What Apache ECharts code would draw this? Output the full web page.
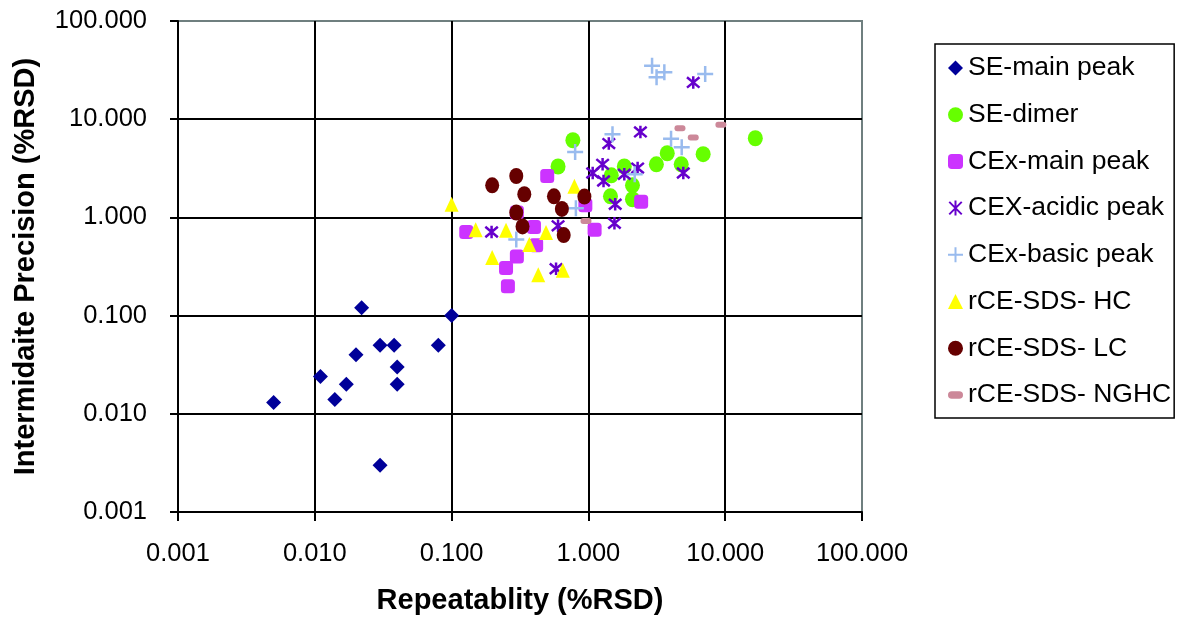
<!DOCTYPE html>
<html>
<head>
<meta charset="utf-8">
<script src="https://cdn.jsdelivr.net/npm/echarts@6/dist/echarts.min.js"></script>
<style>
  html, body { margin: 0; padding: 0; background: #fff; }
  #chart { width: 1187px; height: 620px; }
</style>
</head>
<body>
<div id="chart"></div>
<script>
// [repeatability %RSD, intermediate precision %RSD] for each assay attribute
const seMainPeak = [
  [0.022, 0.12], [0.1, 0.1], [0.03, 0.05], [0.038, 0.05], [0.08, 0.05],
  [0.02, 0.04], [0.04, 0.03], [0.011, 0.024], [0.017, 0.02], [0.04, 0.02],
  [0.014, 0.014], [0.005, 0.013], [0.03, 0.003]
];
const seDimer = [
  [0.77, 6.1], [0.6, 3.3], [1.83, 3.3], [1.47, 2.68], [2.1, 2.12], [1.45, 1.64],
  [2.1, 1.53], [3.14, 3.47], [3.77, 4.5], [4.77, 3.47], [6.9, 4.4], [16.6, 6.4]
];
const cexMainPeak = [
  [0.5, 2.64], [0.3, 1.12], [0.128, 0.71], [0.4, 0.8], [0.415, 0.52], [0.3, 0.4],
  [0.25, 0.305], [0.258, 0.199], [1.11, 0.75], [2.43, 1.44], [0.95, 1.33]
];
const cexAcidicPeak = [
  [5.84, 23.7], [2.4, 7.42], [1.41, 5.65], [1.27, 3.47], [1.075, 2.83], [1.29, 2.35],
  [1.83, 2.75], [2.29, 3.18], [4.94, 2.83], [1.57, 1.36], [1.55, 0.87], [0.6, 0.82],
  [0.196, 0.71], [0.58, 0.3]
];
const cexBasicPeak = [
  [2.92, 35], [3.59, 30], [3.15, 26.7], [7.14, 28.8], [1.5, 7.03], [0.8, 4.64],
  [4.02, 6.32], [4.81, 5.18], [2.18, 2.75], [0.81, 1.24], [0.297, 0.597]
];
const rceSdsHC = [
  [0.1, 1.36], [0.15, 0.75], [0.25, 0.74], [0.49, 0.7], [0.37, 0.53], [0.198, 0.39],
  [0.43, 0.26], [0.65, 0.29], [0.79, 2.08]
];
const rceSdsLC = [
  [0.198, 2.12], [0.297, 2.64], [0.34, 1.72], [0.56, 1.64], [0.935, 1.63], [0.64, 1.22],
  [0.297, 1.12], [0.33, 0.81], [0.66, 0.66]
];
const rceSdsNGHC = [
  [4.67, 8.1], [5.84, 6.5], [9.3, 8.8], [0.96, 0.92]
];

const seriesNames = [
  'SE-main peak', 'SE-dimer', 'CEx-main peak', 'CEX-acidic peak',
  'CEx-basic peak', 'rCE-SDS- HC', 'rCE-SDS- LC', 'rCE-SDS- NGHC'
];

const FONT = 'Liberation Sans, Arial, sans-serif';
const ASTERISK = 'path://M0,0L10,10M10,0L0,10M5,-1L5,11';
const PLUS = 'path://M5,0L5,10M0,5L10,5';
// short rounded dash used for the NGHC marker
const DASH = 'path://M3,0L9,0A3,3,0,0,1,9,6L3,6A3,3,0,0,1,3,0Z';

const chart = echarts.init(document.getElementById('chart'), null, { renderer: 'canvas' });

function scatter(name, data, symbol, size, color, stroked, strokeWidth) {
  return {
    name: name,
    type: 'scatter',
    data: data,
    symbol: symbol,
    symbolSize: size,
    itemStyle: stroked
      ? { color: color, borderColor: color, borderWidth: strokeWidth, opacity: 1 }
      : { color: color, opacity: 1 },
    emphasis: { disabled: true }
  };
}

const fmt = v => Number(v).toFixed(3);

const legendData = seriesNames.map(n => n === 'rCE-SDS- NGHC' ? { name: n, icon: DASH } : { name: n });

chart.setOption({
  animation: false,
  backgroundColor: '#ffffff',
  textStyle: { fontFamily: FONT },
  grid: {
    left: 178, right: 325, top: 21, bottom: 108,
    show: true, borderColor: '#6f7f7f', borderWidth: 2, backgroundColor: 'transparent'
  },
  legend: {
    orient: 'vertical',
    left: 935, top: 44,
    padding: [9, 3, 8, 12],
    itemWidth: 15, itemHeight: 15,
    itemGap: 16.7,
    itemSymbolKeepAspect: true,
    borderColor: '#000', borderWidth: 1.5,
    textStyle: { fontFamily: FONT, fontSize: 26.5, color: '#000', lineHeight: 30 },
    selectedMode: false,
    data: legendData
  },
  xAxis: {
    type: 'log', logBase: 10, min: 0.001, max: 100,
    name: 'Repeatablity (%RSD)',
    nameLocation: 'middle', nameGap: 74,
    nameTextStyle: { fontFamily: FONT, fontSize: 29, fontWeight: 'bold', color: '#000' },
    axisLine: { show: true, lineStyle: { color: '#000', width: 2 } },
    axisTick: { show: true, length: 9, lineStyle: { color: '#000', width: 2 } },
    axisLabel: { formatter: fmt, fontFamily: FONT, fontSize: 25.5, color: '#000', margin: 29 },
    splitLine: { show: true, showMinLine: false, showMaxLine: false, lineStyle: { color: '#000', width: 2 } },
    minorTick: { show: false }
  },
  yAxis: {
    type: 'log', logBase: 10, min: 0.001, max: 100,
    name: 'Intermidaite Precision (%RSD)',
    nameLocation: 'middle', nameGap: 138, nameRotate: 90,
    nameTextStyle: { fontFamily: FONT, fontSize: 29, fontWeight: 'bold', color: '#000' },
    axisLine: { show: true, lineStyle: { color: '#000', width: 2 } },
    axisTick: { show: true, length: 8, lineStyle: { color: '#000', width: 2 } },
    axisLabel: { formatter: fmt, fontFamily: FONT, fontSize: 25.5, color: '#000', margin: 31 },
    splitLine: { show: true, showMinLine: false, showMaxLine: false, lineStyle: { color: '#000', width: 2 } },
    minorTick: { show: false }
  },
  series: [
    scatter(seriesNames[0], seMainPeak, 'diamond', 15, '#000099'),
    scatter(seriesNames[1], seDimer, 'circle', [15, 16], '#66ff00'),
    scatter(seriesNames[2], cexMainPeak, 'roundRect', 14, '#cc33ff'),
    scatter(seriesNames[3], cexAcidicPeak, ASTERISK, 12.5, '#6600cc', true, 2.5),
    scatter(seriesNames[4], cexBasicPeak, PLUS, 16, '#99bbee', true, 2.5),
    scatter(seriesNames[5], rceSdsHC, 'triangle', [14, 15], '#ffff00'),
    scatter(seriesNames[6], rceSdsLC, 'circle', [14, 16], '#660000'),
    scatter(seriesNames[7], rceSdsNGHC, DASH, [11, 6], '#cc8899')
  ]
});
</script>
</body>
</html>
